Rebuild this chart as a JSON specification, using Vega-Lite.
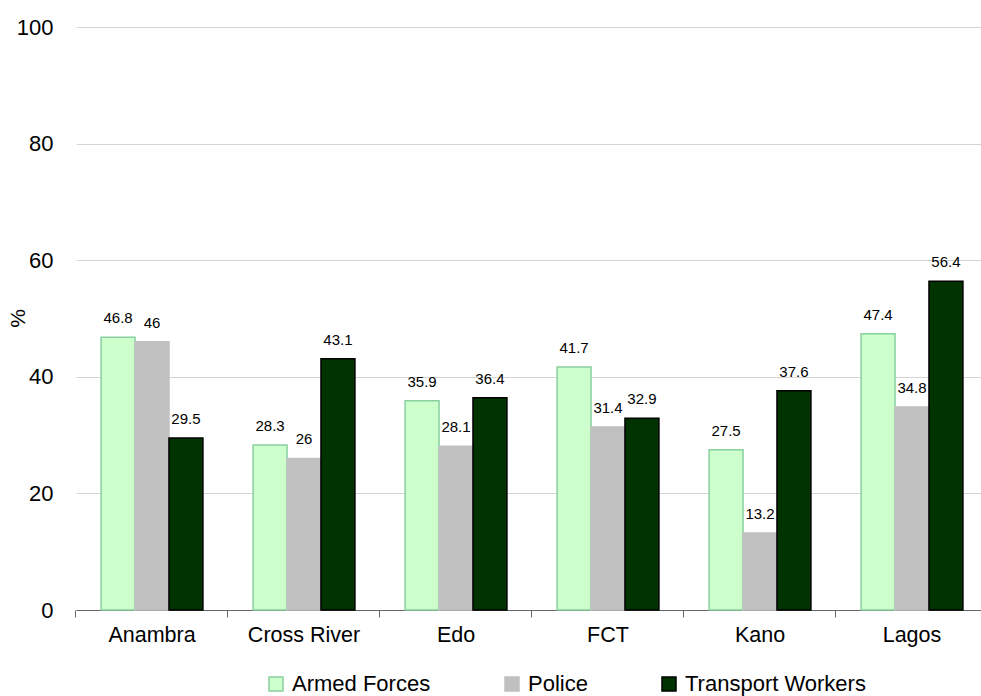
{
  "$schema": "https://vega.github.io/schema/vega-lite/v6.json",
  "width": 912,
  "height": 583,
  "autosize": {"type": "none"},
  "padding": {"left": 76, "top": 27, "right": 0, "bottom": 86},
  "config": {
    "font": "Liberation Sans",
    "view": {"stroke": null},
    "axis": {"labelColor": "#000000", "titleColor": "#000000"}
  },
  "data": {
    "values": [
      {"state": "Anambra", "group": "Armed Forces", "value": 46.8},
      {"state": "Anambra", "group": "Police", "value": 46},
      {"state": "Anambra", "group": "Transport Workers", "value": 29.5},
      {"state": "Cross River", "group": "Armed Forces", "value": 28.3},
      {"state": "Cross River", "group": "Police", "value": 26},
      {"state": "Cross River", "group": "Transport Workers", "value": 43.1},
      {"state": "Edo", "group": "Armed Forces", "value": 35.9},
      {"state": "Edo", "group": "Police", "value": 28.1},
      {"state": "Edo", "group": "Transport Workers", "value": 36.4},
      {"state": "FCT", "group": "Armed Forces", "value": 41.7},
      {"state": "FCT", "group": "Police", "value": 31.4},
      {"state": "FCT", "group": "Transport Workers", "value": 32.9},
      {"state": "Kano", "group": "Armed Forces", "value": 27.5},
      {"state": "Kano", "group": "Police", "value": 13.2},
      {"state": "Kano", "group": "Transport Workers", "value": 37.6},
      {"state": "Lagos", "group": "Armed Forces", "value": 47.4},
      {"state": "Lagos", "group": "Police", "value": 34.8},
      {"state": "Lagos", "group": "Transport Workers", "value": 56.4}
    ]
  },
  "layer": [
    {
      "mark": {"type": "bar", "strokeWidth": 1.5},
      "encoding": {
        "x": {
          "field": "state", "type": "nominal", "sort": null,
          "scale": {"paddingInner": 0.33, "paddingOuter": 0.165},
          "axis": {"title": null, "orient": "bottom", "labels": false, "bandPosition": -0.2466, "domainColor": "#666666", "tickColor": "#666666", "tickSize": 7, "grid": false}
        },
        "xOffset": {
          "field": "group", "type": "nominal",
          "sort": ["Armed Forces", "Police", "Transport Workers"],
          "scale": {"paddingInner": 0, "paddingOuter": 0}
        },
        "y": {
          "field": "value", "type": "quantitative",
          "scale": {"domain": [0, 100]},
          "axis": {
            "title": "%", "titleFontSize": 21, "titleFontWeight": "normal",
            "titleX": -58, "titleY": 291, "titleAlign": "center", "titleBaseline": "middle",
            "values": [0, 20, 40, 60, 80, 100],
            "labelFontSize": 22, "labelPadding": 23,
            "ticks": false, "domain": false, "gridColor": "#d4d4d4"
          }
        },
        "fill": {
          "field": "group", "type": "nominal",
          "scale": {"domain": ["Armed Forces", "Police", "Transport Workers"], "range": ["#ccffcc", "#c0c0c0", "#003300"]},
          "legend": {
            "title": null, "orient": "none", "legendX": 189, "legendY": 646,
            "direction": "horizontal", "symbolType": "square", "symbolSize": 196,
            "symbolStrokeWidth": 1.5, "labelFontSize": 22, "labelColor": "#000000",
            "columnPadding": 70, "labelOffset": 5, "labelLimit": 400
          }
        },
        "stroke": {
          "field": "group", "type": "nominal",
          "scale": {"domain": ["Armed Forces", "Police", "Transport Workers"], "range": ["#88d0a0", "#c0c0c0", "#000000"]},
          "legend": {
            "title": null, "orient": "none", "legendX": 189, "legendY": 646,
            "direction": "horizontal", "symbolType": "square", "symbolSize": 196,
            "symbolStrokeWidth": 1.5, "labelFontSize": 22, "labelColor": "#000000",
            "columnPadding": 70, "labelOffset": 5, "labelLimit": 400
          }
        }
      }
    },
    {
      "mark": {"type": "text", "dy": -19, "fontSize": 15, "color": "#000000"},
      "encoding": {
        "x": {
          "field": "state", "type": "nominal", "sort": null,
          "axis": {"title": null, "orient": "bottom", "domain": false, "ticks": false, "labelPadding": 14, "labelFontSize": 21.5, "labelAngle": 0, "grid": false}
        },
        "xOffset": {
          "field": "group", "type": "nominal",
          "sort": ["Armed Forces", "Police", "Transport Workers"]
        },
        "y": {"field": "value", "type": "quantitative"},
        "text": {"field": "value", "type": "nominal"}
      }
    }
  ],
  "resolve": {"axis": {"x": "independent"}}
}
